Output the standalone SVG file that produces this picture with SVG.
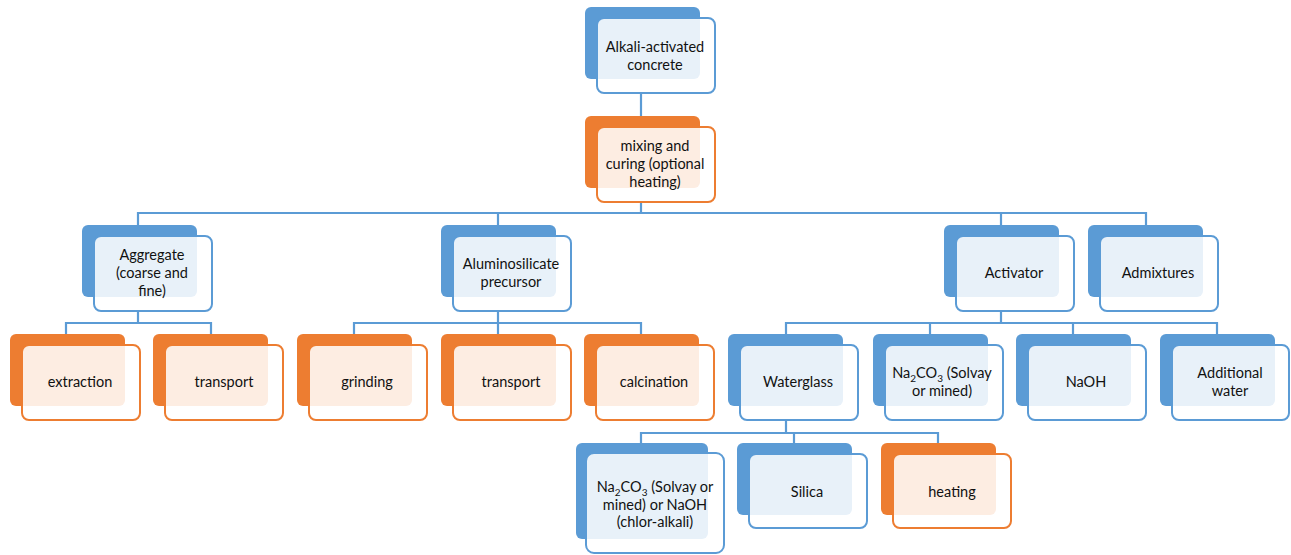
<svg xmlns="http://www.w3.org/2000/svg" width="1291" height="555" viewBox="0 0 1291 555">
<style>
  .bb{fill:#5B9BD5}
  .bo{fill:#ED7D31}
  .fb{fill:#fff;fill-opacity:0.86;stroke:#5B9BD5;stroke-width:2}
  .fo{fill:#fff;fill-opacity:0.86;stroke:#ED7D31;stroke-width:2}
  .c{fill:none;stroke:#5B9BD5;stroke-width:2.2}
  text{font-family:Lato,"Liberation Sans",sans-serif;font-size:14.5px;fill:#111;text-anchor:middle}
  .sub{font-size:10px}
</style>
<g id="connectors">
  <path class="c" d="M641,93V127"/>
  <path class="c" d="M641,202V213M138,225V213H1146V225M498,213V225M1001,213V225"/>
  <path class="c" d="M138,311V323M66,334V323H211V334"/>
  <path class="c" d="M498,311V323M354,334V323H641V334M498,323V334"/>
  <path class="c" d="M1001,311V323M786,334V323H1217V334M930,323V334M1073,323V334"/>
  <path class="c" d="M786,421V433M641,443V433H938V443M794,433V443"/>
</g>
<g id="n-aac">
  <rect class="bb" x="585" y="7" width="115" height="72" rx="6"/>
  <rect class="fb" x="597" y="18" width="118" height="75" rx="7"/>
  <text x="655" y="52">Alkali-activated</text>
  <text x="655" y="70">concrete</text>
</g>
<g id="n-mix">
  <rect class="bo" x="585" y="116" width="115" height="72" rx="6"/>
  <rect class="fo" x="597" y="127" width="118" height="75" rx="7"/>
  <text x="655" y="151">mixing and</text>
  <text x="655" y="169">curing (optional</text>
  <text x="655" y="187">heating)</text>
</g>
<g id="n-agg">
  <rect class="bb" x="82" y="225" width="115" height="72" rx="6"/>
  <rect class="fb" x="94" y="236" width="118" height="75" rx="7"/>
  <text x="152" y="260">Aggregate</text>
  <text x="152" y="278">(coarse and</text>
  <text x="152" y="296">fine)</text>
</g>
<g id="n-alu">
  <rect class="bb" x="441" y="225" width="115" height="72" rx="6"/>
  <rect class="fb" x="453" y="236" width="118" height="75" rx="7"/>
  <text x="511" y="269">Aluminosilicate</text>
  <text x="511" y="287">precursor</text>
</g>
<g id="n-act">
  <rect class="bb" x="944" y="225" width="115" height="72" rx="6"/>
  <rect class="fb" x="956" y="236" width="118" height="75" rx="7"/>
  <text x="1014" y="278">Activator</text>
</g>
<g id="n-adm">
  <rect class="bb" x="1088" y="225" width="115" height="72" rx="6"/>
  <rect class="fb" x="1100" y="236" width="118" height="75" rx="7"/>
  <text x="1158" y="278">Admixtures</text>
</g>
<g id="n-ext">
  <rect class="bo" x="10" y="334" width="115" height="72" rx="6"/>
  <rect class="fo" x="22" y="345" width="118" height="75" rx="7"/>
  <text x="80" y="387">extraction</text>
</g>
<g id="n-tr1">
  <rect class="bo" x="153" y="334" width="115" height="72" rx="6"/>
  <rect class="fo" x="165" y="345" width="118" height="75" rx="7"/>
  <text x="224" y="387">transport</text>
</g>
<g id="n-grind">
  <rect class="bo" x="297" y="334" width="115" height="72" rx="6"/>
  <rect class="fo" x="309" y="345" width="118" height="75" rx="7"/>
  <text x="367" y="387">grinding</text>
</g>
<g id="n-tr2">
  <rect class="bo" x="441" y="334" width="115" height="72" rx="6"/>
  <rect class="fo" x="453" y="345" width="118" height="75" rx="7"/>
  <text x="511" y="387">transport</text>
</g>
<g id="n-calc">
  <rect class="bo" x="584" y="334" width="115" height="72" rx="6"/>
  <rect class="fo" x="596" y="345" width="118" height="75" rx="7"/>
  <text x="654" y="387">calcination</text>
</g>
<g id="n-wg">
  <rect class="bb" x="728" y="334" width="115" height="72" rx="6"/>
  <rect class="fb" x="740" y="345" width="118" height="75" rx="7"/>
  <text x="798" y="387">Waterglass</text>
</g>
<g id="n-na2co3">
  <rect class="bb" x="873" y="334" width="115" height="72" rx="6"/>
  <rect class="fb" x="885" y="345" width="118" height="75" rx="7"/>
  <text x="942" y="378">Na<tspan class="sub" dy="4">2</tspan><tspan dy="-4">CO</tspan><tspan class="sub" dy="4">3</tspan><tspan dy="-4"> (Solvay</tspan></text>
  <text x="942" y="396">or mined)</text>
</g>
<g id="n-naoh">
  <rect class="bb" x="1016" y="334" width="115" height="72" rx="6"/>
  <rect class="fb" x="1028" y="345" width="118" height="75" rx="7"/>
  <text x="1086" y="387">NaOH</text>
</g>
<g id="n-water">
  <rect class="bb" x="1160" y="334" width="115" height="72" rx="6"/>
  <rect class="fb" x="1172" y="345" width="117" height="75" rx="7"/>
  <text x="1230" y="378">Additional</text>
  <text x="1230" y="396">water</text>
</g>
<g id="n-na2co3naoh">
  <rect class="bb" x="576" y="443" width="132" height="96" rx="6"/>
  <rect class="fb" x="586" y="453" width="138" height="100" rx="8"/>
  <text x="655" y="492">Na<tspan class="sub" dy="4">2</tspan><tspan dy="-4">CO</tspan><tspan class="sub" dy="4">3</tspan><tspan dy="-4"> (Solvay or</tspan></text>
  <text x="655" y="510">mined) or NaOH</text>
  <text x="655" y="527">(chlor-alkali)</text>
</g>
<g id="n-silica">
  <rect class="bb" x="737" y="443" width="115" height="72" rx="6"/>
  <rect class="fb" x="749" y="454" width="118" height="74" rx="7"/>
  <text x="807" y="497">Silica</text>
</g>
<g id="n-heat">
  <rect class="bo" x="881" y="443" width="115" height="72" rx="6"/>
  <rect class="fo" x="893" y="454" width="118" height="74" rx="7"/>
  <text x="952" y="497">heating</text>
</g>
</svg>
